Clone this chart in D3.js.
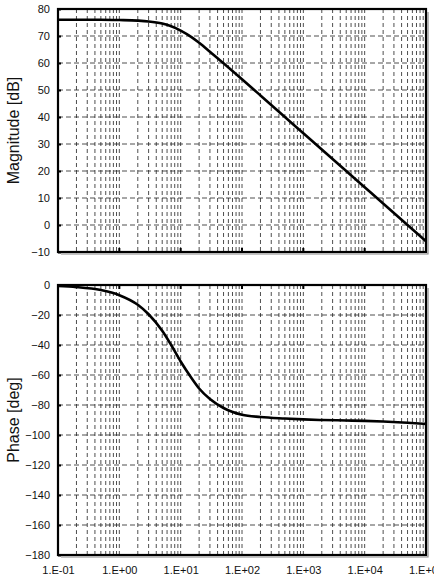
<!DOCTYPE html>
<html lang="en">
<head>
  <meta charset="UTF-8">
  <title>Bode plot</title>
  <style>
    body { margin: 0; background: #fff; }
    text { font-family: "Liberation Sans", Arial, sans-serif; }
  </style>
</head>
<body>
  <div id="main"></div>
  <script src="https://cdn.jsdelivr.net/npm/d3@7"></script>
  <script>
    // data
    let freqs = [0.1, 0.2, 0.5, 1, 2, 3, 5, 7, 10, 15, 20, 30, 50, 100, 200, 500, 1e3, 2e3, 5e3, 1e4, 2e4, 5e4, 1e5]
    let magDb = [76, 76, 76, 75.9, 75.7, 75.4, 74.6, 73.6, 72, 69.6, 67.5, 64.2, 59.9, 54, 48, 40, 34, 28, 20, 14, 8, 0, -6]
    let phaseDeg = [-0.7, -1.4, -3.4, -6.8, -13.2, -19.5, -30.5, -40, -51, -62, -69, -76, -82, -86.5, -88, -89, -89.6, -90, -90.3, -90.6, -91, -91.8, -92.6]
    let decades = [0.1, 1, 10, 100, 1e3, 1e4, 1e5]
    let decadeLabels = ["1.E-01", "1.E+00", "1.E+01", "1.E+02", "1.E+03", "1.E+04", "1.E+05"]
    let magTicks = [-10, 0, 10, 20, 30, 40, 50, 60, 70, 80]
    let phaseTicks = [-180, -160, -140, -120, -100, -80, -60, -40, -20, 0]

    let svg = d3.select('#main').append('svg')
      .attr('width', 434)
      .attr('height', 576)

    let x = d3.scaleLog().domain([0.1, 1e5]).range([58, 426])
    let minorX = x.ticks().filter(d => d > 0.1 && d < 1e5)

    function drawPanel(yScale, ticks, values, title, axisAtTop) {
      let y0 = yScale.range()[1], y1 = yScale.range()[0]
      let xl = x.range()[0], xr = x.range()[1]
      let g = svg.append('g')

      // vertical dashed grid
      g.selectAll('.vgrid').data(minorX).enter().append('line')
        .attr('x1', d => x(d)).attr('x2', d => x(d))
        .attr('y1', y0).attr('y2', y1)
        .attr('stroke', '#222')
        .attr('stroke-width', 0.8)
        .attr('stroke-dasharray', '4 3')

      // horizontal dashed grid
      g.selectAll('.hgrid').data(ticks.slice(1, -1)).enter().append('line')
        .attr('x1', xl).attr('x2', xr)
        .attr('y1', d => yScale(d)).attr('y2', d => yScale(d))
        .attr('stroke', '#222')
        .attr('stroke-width', 0.8)
        .attr('stroke-dasharray', '5 3')

      // curve
      let line = d3.line()
        .x((d, i) => x(freqs[i]))
        .y(d => yScale(d))
        .curve(d3.curveMonotoneX)
      g.append('path')
        .attr('d', line(values))
        .attr('fill', 'none')
        .attr('stroke', '#000')
        .attr('stroke-width', 2.6)

      // frame + a little shadow on the right and bottom
      g.append('rect')
        .attr('x', xl).attr('y', y0)
        .attr('width', xr - xl)
        .attr('height', y1 - y0)
        .attr('fill', 'none')
        .attr('stroke', '#000')
        .attr('stroke-width', 2.2)
      g.append('polyline')
        .attr('points', `${xr + 2},${y0 + 3} ${xr + 2},${y1 + 2} ${xl + 3},${y1 + 2}`)
        .attr('fill', 'none')
        .attr('stroke', '#888')
        .attr('stroke-width', 1.2)

      // y axis
      let yAxis = d3.axisLeft(yScale)
        .tickValues(ticks)
        .tickSizeInner(-3)
        .tickSizeOuter(0)
        .tickPadding(8)
      let ya = g.append('g')
        .attr('transform', `translate(${xl},0)`)
        .call(yAxis)
      ya.select('.domain').remove()
      ya.selectAll('line').attr('stroke-width', 2)
      ya.selectAll('text').attr('font-size', 11).attr('fill', '#111')

      // decade ticks on the x axis line
      let axisY = axisAtTop ? y0 : y1
      let dir = axisAtTop ? 1 : -1
      g.selectAll('.dtick').data(decades.slice(1, -1)).enter().append('line')
        .attr('x1', d => x(d)).attr('x2', d => x(d))
        .attr('y1', axisY).attr('y2', axisY + dir * 4)
        .attr('stroke', '#000')
        .attr('stroke-width', 2)

      // title
      g.append('text')
        .attr('transform', `translate(19,${(y0 + y1) / 2}) rotate(-90)`)
        .attr('text-anchor', 'middle')
        .attr('font-size', 16)
        .attr('fill', '#111')
        .text(title)
    }

    let yMag = d3.scaleLinear().domain([-10, 80]).range([252, 9])
    let yPh = d3.scaleLinear().domain([-180, 0]).range([555, 285])

    drawPanel(yMag, magTicks, magDb, 'Magnitude [dB]', false)
    drawPanel(yPh, phaseTicks, phaseDeg, 'Phase [deg]', true)

    // x labels under the phase panel
    let xAxis = d3.axisBottom(x)
      .tickValues(decades)
      .tickFormat((d, i) => decadeLabels[i])
      .tickSize(0)
      .tickPadding(11)
    let xa = svg.append('g')
      .attr('transform', 'translate(0,555)')
      .call(xAxis)
    xa.select('.domain').remove()
    xa.selectAll('text').attr('font-size', 11).attr('fill', '#111')
  </script>
</body>
</html>
